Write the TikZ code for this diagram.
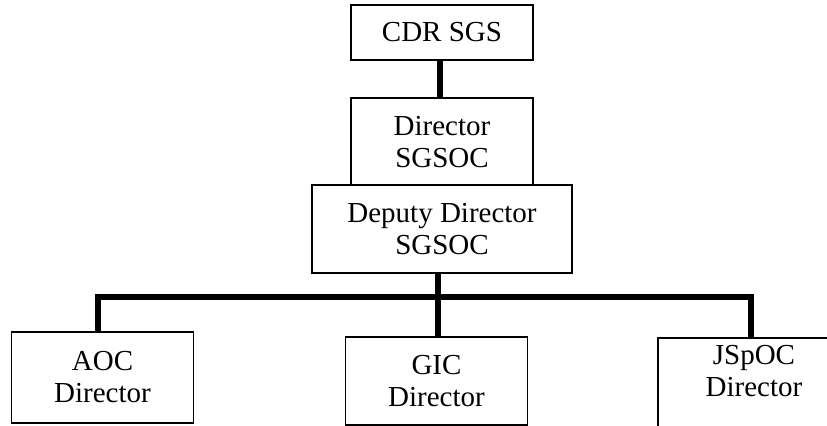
\documentclass[tikz,border=0pt]{standalone}
\usepackage{fontspec}
\setmainfont{Liberation Serif}

\begin{document}
\begin{tikzpicture}[x=0.5pt, y=-0.5pt,
                    every node/.style={font=\fontsize{14.5}{16}\selectfont},
                    unit/.style={draw, line width=0.75pt, inner sep=0pt, align=center,
                                 minimum width=91pt, minimum height=44pt},
                    bus/.style={line width=3pt}]
                    \useasboundingbox (0,0) rectangle (827,426);

                    \node[unit, minimum height=27.5pt] (cdr) at (442,32.5) {CDR SGS};
                    \node[unit] (dir) at (442,142) {Director\\SGSOC};
                    \node[unit, minimum width=130pt, fill=white] (dep) at (442,229) {Deputy Director\\SGSOC};

                    \node[unit, minimum height=45.5pt] (aoc) at (102.5,377.5) {AOC\\Director};
                    \node[unit] (gic) at (436.5,381) {GIC\\Director};
                    % box runs off the page on the right and at the bottom
                    \node[unit, minimum width=96pt, minimum height=51pt, text depth=18pt] (jspoc) at (754,389) {JSpOC\\Director};

                    \coordinate (hub) at (438,297);

                    \draw[bus] (440,61) -- (440,98);
                    \draw[bus] (dep.south -| hub) -- (hub);
                    \draw[bus] (98,332) |- (hub) -| (751,338);
                    \draw[bus] (hub) -- (gic.north -| hub);
                \end{tikzpicture}
\end{document}
